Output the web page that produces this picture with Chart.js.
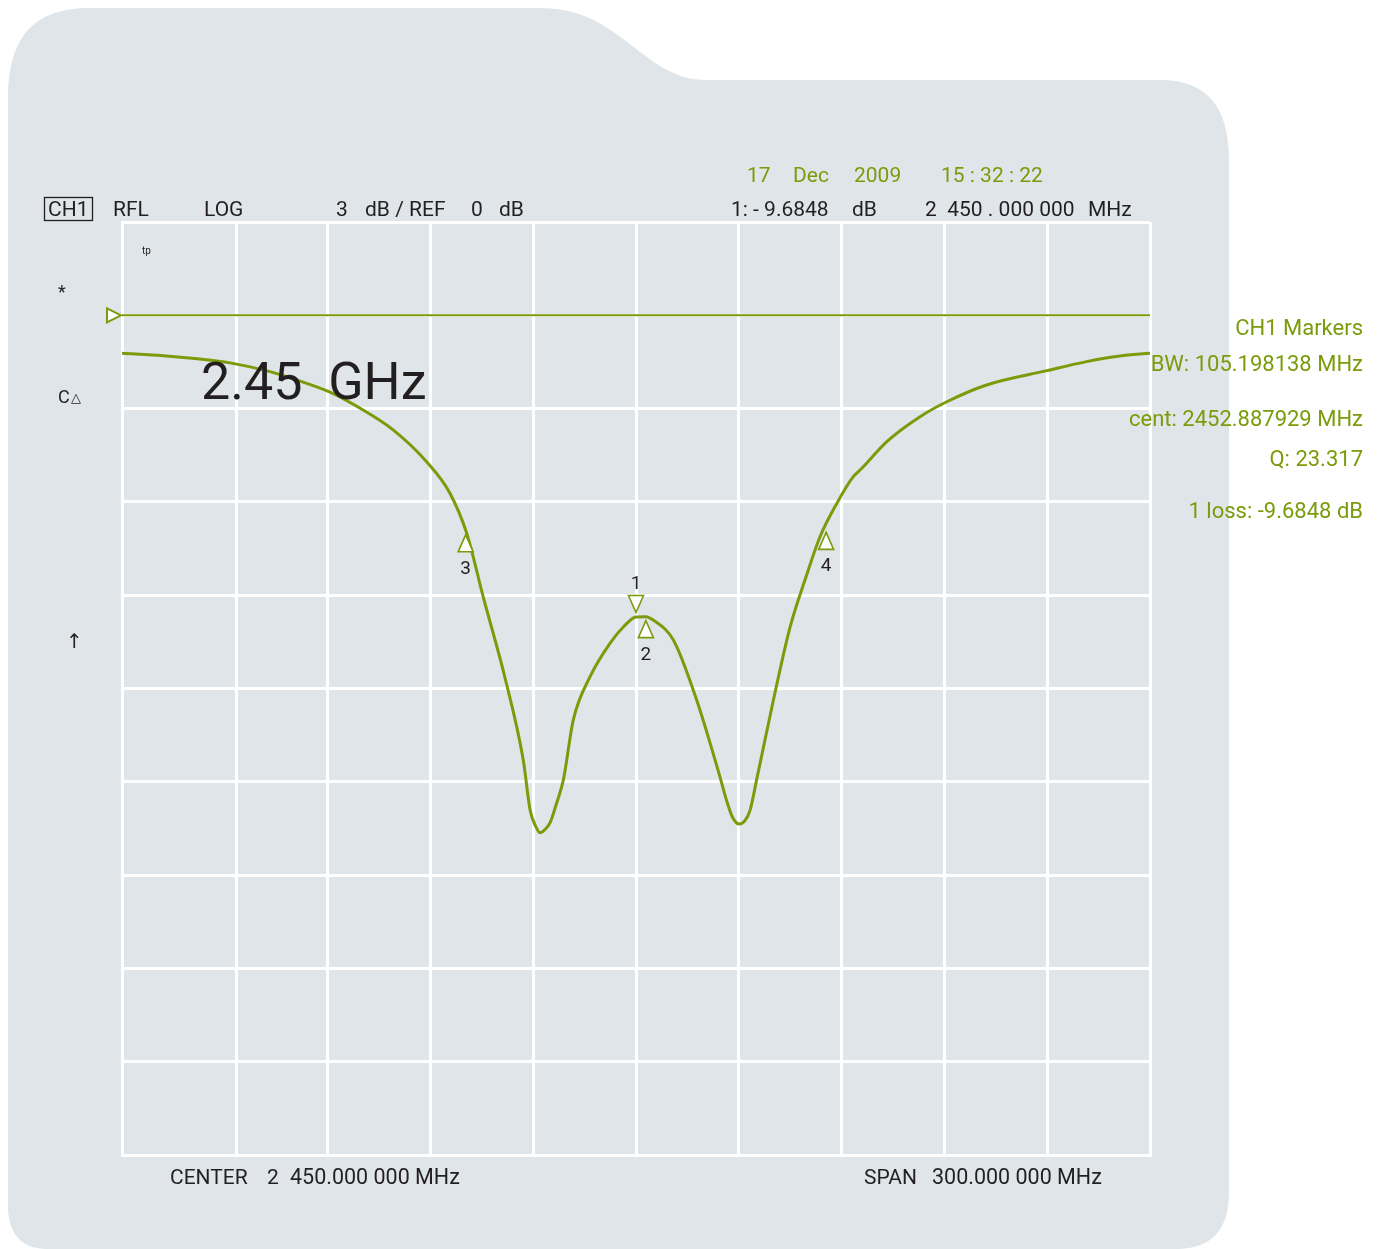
<!DOCTYPE html>
<html>
<head>
<meta charset="utf-8">
<script src="https://cdn.jsdelivr.net/npm/chart.js@4.4.1/dist/chart.umd.min.js"></script>
<style>
  html, body { margin: 0; padding: 0; background: #ffffff; }
  canvas { display: block; }
</style>
</head>
<body>
<canvas id="vna" width="1385" height="1249"></canvas>
<script>
// Trace: frequency (MHz) and reflection (dB)
const freqMHz = [2300, 2312, 2322, 2331.5, 2342, 2351, 2360.7, 2369.5, 2379.2, 2388.9,
  2395.7, 2400.6, 2405.4, 2411.8, 2417.1, 2419.1, 2420.8, 2422, 2423.3, 2424.9,
  2426.8, 2428.8, 2431.7, 2436.6, 2442.4, 2446.5, 2450, 2452.9, 2455, 2460.9,
  2467.7, 2474.5, 2476.4, 2478.2, 2480.1, 2481.8, 2483.3, 2485.2, 2490.1, 2495,
  2499.5, 2503.7, 2508.6, 2513.4, 2515.9, 2523.2, 2532.9, 2540.7, 2552.3, 2569.9,
  2581.5, 2591.2, 2600];
const traceDb = [-1.22, -1.30, -1.40, -1.53, -1.78, -2.08, -2.47, -2.99, -3.69, -4.71,
  -5.72, -7.01, -9.05, -11.67, -14.30, -15.91, -16.45, -16.64, -16.55, -16.32,
  -15.70, -14.94, -13.01, -11.62, -10.55, -10.00, -9.70, -9.69, -9.80, -10.44,
  -12.37, -14.84, -15.59, -16.15, -16.36, -16.25, -15.91, -14.94, -12.37, -10.01,
  -8.45, -7.12, -6.05, -5.19, -4.92, -4.06, -3.26, -2.78, -2.24, -1.78,
  -1.49, -1.31, -1.22];

// Screen divisions (vertical graticule is slightly uneven on the original)
const gridFreqs = [2300, 2333.5, 2360, 2390, 2420, 2450, 2480, 2510, 2540, 2570, 2600];
const refDb = 0;
const dbMin = -27, dbMax = 3, dbPerDiv = 3;

// Markers
const markerNames = ['1', '2', '3', '4'];
const markerFreqs = [2450, 2452.888, 2400.289, 2505.487];
const markerDb = [-9.6848, -9.69, -6.93, -6.85];
const markerDown = [true, false, false, false];

const GREEN = '#7b9b0a';
const INK = '#231f20';
const PANEL = '#dfe5e8';
const FONT = 'Roboto, "DejaVu Sans", sans-serif';

const tracePoints = freqMHz.map((f, i) => ({ x: f, y: traceDb[i] }));

function txt(ctx, s, x, y, size, color, align) {
  ctx.font = size + 'px ' + FONT;
  ctx.fillStyle = color;
  ctx.textAlign = align || 'left';
  ctx.textBaseline = 'alphabetic';
  ctx.fillText(s, x, y);
}

const panelPlugin = {
  id: 'panel',
  beforeDraw(chart) {
    const ctx = chart.ctx;
    ctx.save();
    ctx.fillStyle = '#ffffff';
    ctx.fillRect(0, 0, chart.width, chart.height);
    ctx.beginPath();
    ctx.moveTo(48, 1249);
    ctx.quadraticCurveTo(8, 1249, 8, 1205);
    ctx.lineTo(8, 100);
    ctx.bezierCurveTo(8, 32, 38, 8, 90, 8);
    ctx.lineTo(540, 8);
    ctx.bezierCurveTo(598, 8, 622, 42, 660, 66);
    ctx.bezierCurveTo(680, 78, 692, 80, 712, 80);
    ctx.lineTo(1160, 80);
    ctx.bezierCurveTo(1208, 80, 1229, 108, 1229, 160);
    ctx.lineTo(1229, 1192);
    ctx.quadraticCurveTo(1229, 1249, 1176, 1249);
    ctx.closePath();
    ctx.fillStyle = PANEL;
    ctx.fill();
    ctx.restore();
  }
};

const markerPlugin = {
  id: 'markers',
  afterDatasetsDraw(chart) {
    const ctx = chart.ctx;
    const xs = chart.scales.x, ys = chart.scales.y;
    const w = 15, h = 17, gap = 4;
    ctx.save();
    // reference level pointer
    const ry = ys.getPixelForValue(refDb);
    const lx = chart.chartArea.left;
    ctx.beginPath();
    ctx.moveTo(lx - 1, ry);
    ctx.lineTo(lx - 15, ry - 7);
    ctx.lineTo(lx - 15, ry + 7);
    ctx.closePath();
    ctx.fillStyle = '#ffffff';
    ctx.fill();
    ctx.strokeStyle = GREEN;
    ctx.lineWidth = 2;
    ctx.stroke();

    markerNames.forEach((name, i) => {
      const x = xs.getPixelForValue(markerFreqs[i]);
      const y = ys.getPixelForValue(markerDb[i]);
      ctx.beginPath();
      if (markerDown[i]) {
        const tip = y - gap;
        ctx.moveTo(x, tip);
        ctx.lineTo(x - w / 2, tip - h);
        ctx.lineTo(x + w / 2, tip - h);
      } else {
        const tip = y + gap;
        ctx.moveTo(x, tip);
        ctx.lineTo(x - w / 2, tip + h);
        ctx.lineTo(x + w / 2, tip + h);
      }
      ctx.closePath();
      ctx.fillStyle = '#ffffff';
      ctx.fill();
      ctx.strokeStyle = GREEN;
      ctx.lineWidth = 1.6;
      ctx.stroke();
      const ly = markerDown[i] ? y - gap - h - 6 : y + gap + h + 22;
      txt(ctx, name, x, ly, 19, INK, 'center');
    });
    ctx.restore();
  }
};

const annotationPlugin = {
  id: 'annotations',
  afterDraw(chart) {
    const ctx = chart.ctx;
    ctx.save();
    // header line
    ctx.strokeStyle = INK;
    ctx.lineWidth = 1.3;
    ctx.strokeRect(44.5, 197.5, 48, 23);
    txt(ctx, 'CH1', 48, 216, 21, INK);
    txt(ctx, 'RFL', 113, 216, 21, INK);
    txt(ctx, 'LOG', 204, 216, 21, INK);
    txt(ctx, '3', 336, 216, 21, INK);
    txt(ctx, 'dB / REF', 365, 216, 21, INK);
    txt(ctx, '0', 471, 216, 21, INK);
    txt(ctx, 'dB', 499, 216, 21, INK);
    txt(ctx, '1: - 9.6848', 731, 216, 21, INK);
    txt(ctx, 'dB', 852, 216, 21, INK);
    txt(ctx, '2  450 . 000 000', 925, 216, 21, INK);
    txt(ctx, 'MHz', 1088, 216, 21, INK);
    // date / time
    txt(ctx, '17', 747, 182, 21, GREEN);
    txt(ctx, 'Dec', 793, 182, 21, GREEN);
    txt(ctx, '2009', 854, 182, 21, GREEN);
    txt(ctx, '15 : 32 : 22', 941, 182, 21, GREEN);
    // left side annotations
    txt(ctx, 'tp', 142, 254, 10, INK);
    txt(ctx, '*', 58, 298, 18, INK);
    txt(ctx, 'C', 58, 403, 18, INK);
    txt(ctx, '\u25B3', 71, 402, 13, INK);
    txt(ctx, '\u2191', 66, 648, 20, INK);
    txt(ctx, '2.45  GHz', 201, 399, 52, INK);
    // marker readout
    const rx = 1363;
    txt(ctx, 'CH1 Markers', rx, 335, 22, GREEN, 'right');
    txt(ctx, 'BW: 105.198138 MHz', rx, 371, 22, GREEN, 'right');
    txt(ctx, 'cent: 2452.887929 MHz', rx, 426, 22, GREEN, 'right');
    txt(ctx, 'Q: 23.317', rx, 466, 22, GREEN, 'right');
    txt(ctx, '1 loss: -9.6848 dB', rx, 518, 22, GREEN, 'right');
    // footer
    txt(ctx, 'CENTER', 170, 1184, 21, INK);
    txt(ctx, '2', 267, 1184, 21, INK);
    txt(ctx, '450.000 000 MHz', 290, 1184, 21.5, INK);
    txt(ctx, 'SPAN', 864, 1184, 21, INK);
    txt(ctx, '300.000 000 MHz', 932, 1184, 21.5, INK);
    ctx.restore();
  }
};

new Chart(document.getElementById('vna').getContext('2d'), {
  type: 'line',
  data: {
    datasets: [
      {
        label: 'REF',
        data: [{ x: gridFreqs[0], y: refDb }, { x: gridFreqs[gridFreqs.length - 1], y: refDb }],
        borderColor: GREEN,
        borderWidth: 2,
        pointRadius: 0
      },
      {
        label: 'CH1 RFL',
        data: tracePoints,
        borderColor: GREEN,
        borderWidth: 3,
        pointRadius: 0,
        cubicInterpolationMode: 'monotone'
      }
    ]
  },
  options: {
    responsive: false,
    animation: false,
    devicePixelRatio: 1,
    layout: { padding: { left: 122, top: 222, right: 235, bottom: 94 } },
    plugins: { legend: { display: false }, tooltip: { enabled: false } },
    scales: {
      x: {
        type: 'linear',
        min: gridFreqs[0],
        max: gridFreqs[gridFreqs.length - 1],
        afterBuildTicks: axis => { axis.ticks = gridFreqs.map(v => ({ value: v })); },
        ticks: { display: false },
        grid: { color: '#ffffff', lineWidth: 3, drawTicks: false },
        border: { display: true, color: '#ffffff', width: 3 }
      },
      y: {
        min: dbMin,
        max: dbMax,
        ticks: { display: false, stepSize: dbPerDiv },
        grid: { color: '#ffffff', lineWidth: 3, drawTicks: false },
        border: { display: true, color: '#ffffff', width: 3 }
      }
    }
  },
  plugins: [panelPlugin, markerPlugin, annotationPlugin]
});
</script>
</body>
</html>
